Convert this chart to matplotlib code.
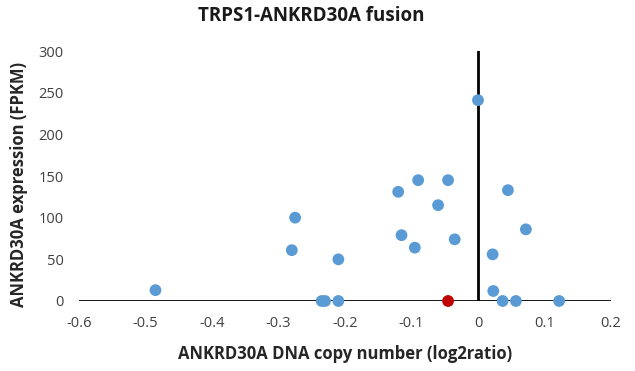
import matplotlib
matplotlib.use("Agg")
import matplotlib.pyplot as plt

plt.rcParams['font.family'] = ['Open Sans', 'DejaVu Sans']

# Samples without the fusion
copy_number = [-0.485, -0.280, -0.275, -0.235, -0.230, -0.210, -0.210,
               -0.120, -0.115, -0.095, -0.090, -0.060, -0.045, -0.035,
               0.000, 0.022, 0.023, 0.037, 0.045, 0.057, 0.072, 0.122]
expression = [13, 61, 100, 0, 0, 50, 0,
              131, 79, 64, 145, 115, 145, 74,
              241, 56, 12, 0, 133, 0, 86, 0]

# Sample carrying the TRPS1-ANKRD30A fusion
fusion_copy_number = [-0.045]
fusion_expression = [0]

x_ticks = [-0.6, -0.5, -0.4, -0.3, -0.2, -0.1, 0, 0.1, 0.2]
x_tick_labels = ['-0.6', '-0.5', '-0.4', '-0.3', '-0.2', '-0.1', '0', '0.1', '0.2']
y_ticks = [0, 50, 100, 150, 200, 250, 300]

fig = plt.figure(figsize=(6.35, 3.71), dpi=100)
ax = fig.add_axes([0.1244, 0.1887, 0.8378, 0.6738])

ax.set_xlim(-0.6, 0.2)
ax.set_ylim(0, 300)

# Axis lines crossing at the origin
ax.axhline(0, color='black', lw=2, zorder=1)
ax.axvline(0, color='black', lw=2, zorder=1)
for s in ax.spines.values():
    s.set_visible(False)

ax.scatter(copy_number, expression, s=72, color='#5B9BD5', zorder=3,
           edgecolors='none', clip_on=False)
ax.scatter(fusion_copy_number, fusion_expression, s=72, color='#C00000',
           zorder=4, edgecolors='none', clip_on=False)

ax.set_xticks(x_ticks)
ax.set_xticklabels(x_tick_labels)
ax.set_yticks(y_ticks)
ax.tick_params(length=0, labelsize=10.5, labelcolor='#404040')
ax.tick_params(axis='x', pad=11)
ax.tick_params(axis='y', pad=11)

ax.set_xlabel('ANKRD30A DNA copy number (log2ratio)', fontsize=12,
              fontweight='bold', color='#262626', labelpad=10)
ax.set_ylabel('ANKRD30A expression (FPKM)', fontsize=12,
              fontweight='bold', color='#262626')
ax.yaxis.set_label_coords(-0.096, 0.465)
fig.text(0.49, 0.957, 'TRPS1-ANKRD30A fusion', ha='center', va='center',
         fontsize=13.5, fontweight='bold', color='#1a1a1a')

fig.savefig('out.png', dpi=100)
